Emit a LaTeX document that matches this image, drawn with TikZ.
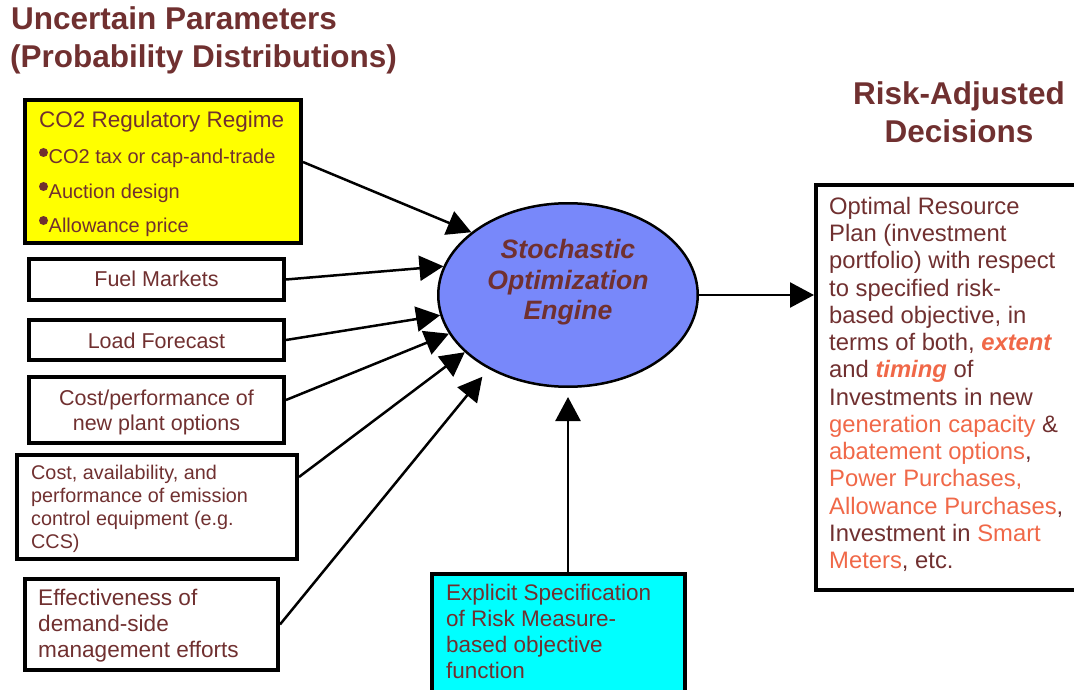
\documentclass[tikz,border=0pt]{standalone}
\usepackage{fontspec}
\setmainfont{Liberation Sans}
\usetikzlibrary{arrows.meta,shapes.geometric}
\definecolor{brn}{RGB}{112,48,48}
\definecolor{org}{RGB}{240,104,72}
\definecolor{peri}{RGB}{120,136,250}
\definecolor{cyn}{RGB}{0,255,255}
\definecolor{ylw}{RGB}{255,255,0}
\newcommand{\myfs}[2]{\fontsize{#1}{#2}\selectfont}
\begin{document}
\begin{tikzpicture}[x=1pt,y=-1pt,
  box/.style={draw=black, line width=4pt, rectangle, inner sep=0pt},
  txt/.style={inner sep=0pt, text=brn, anchor=base west},
  ctxt/.style={inner sep=0pt, text=brn, anchor=base},
  arr/.style={line width=2.5pt, -{Triangle[length=24pt,width=25pt]}},
  bul/.style={fill=brn},
]
\useasboundingbox (0,0) rectangle (1074,690);

% titles
\node[txt, font=\myfs{31.5}{38}\bfseries] (t1) at (11,30) {Uncertain Parameters};
\node[txt, font=\myfs{31.5}{38}\bfseries] (t2) at (10,68) {(Probability Distributions)};
\node[ctxt, font=\myfs{31.5}{38}\bfseries] (r1) at (959,105) {Risk-Adjusted};
\node[ctxt, font=\myfs{31.5}{38}\bfseries] (r2) at (959,143) {Decisions};

% boxes
\node[box, fill=ylw, minimum width=276pt, minimum height=143pt] (co2) at (163,171.5) {};
\node[box, minimum width=255pt, minimum height=41pt] (fuel) at (156.5,279.5) {};
\node[box, minimum width=255pt, minimum height=40pt] (load) at (156.5,340) {};
\node[box, minimum width=255pt, minimum height=66pt] (perf) at (156.5,410) {};
\node[box, minimum width=280pt, minimum height=104pt] (avail) at (157,507) {};
\node[box, minimum width=253pt, minimum height=91pt] (eff) at (151.5,624.5) {};
\node[box, minimum width=284pt, minimum height=405pt] (out) at (958,387.5) {};
\node[box, fill=cyn, minimum width=253pt, minimum height=146pt] (risk) at (558.5,647) {};
\node[draw=black, line width=2.5pt, ellipse, fill=peri, inner sep=0pt,
      minimum width=259.5pt, minimum height=183.5pt] (eng) at (568,295) {};

% box texts
\node[txt, font=\myfs{22.5}{27}] (co2t) at (39,128) {CO2 Regulatory Regime};
\fill[bul] (43.5,152.5) circle [radius=4.5pt];
\fill[bul] (43.5,186.5) circle [radius=4.5pt];
\fill[bul] (43.5,220.5) circle [radius=4.5pt];
\node[txt, font=\myfs{20}{24}] (b1) at (48.5,164) {CO2 tax or cap-and-trade};
\node[txt, font=\myfs{20}{24}] (b2) at (48.5,198) {Auction design};
\node[txt, font=\myfs{20}{24}] (b3) at (48.5,232) {Allowance price};
\node[ctxt, font=\myfs{21.5}{25}] (fuelt) at (156.5,286) {Fuel Markets};
\node[ctxt, font=\myfs{21.5}{25}] (loadt) at (156.5,348) {Load Forecast};
\node[ctxt, font=\myfs{21.5}{25}] (perft) at (156.5,405) {\parbox[t]{300pt}{\centering Cost/performance of\\new plant options}};
\node[txt, font=\myfs{19.8}{23}] (availt) at (31,479) {\parbox[t]{300pt}{\raggedright Cost, availability, and\\performance of emission\\control equipment (e.g.\\CCS)}};
\node[txt, font=\myfs{22.6}{26}] (efft) at (38,605.7) {\parbox[t]{300pt}{\raggedright Effectiveness of\\demand-side\\management efforts}};
\node[ctxt, font=\myfs{26.6}{31}\bfseries\itshape] (engt) at (568,258) {\parbox[t]{300pt}{\centering Stochastic\\Optimization\\Engine}};
\node[txt, font=\myfs{22.5}{26}] (riskt) at (446,600) {\parbox[t]{300pt}{\raggedright Explicit Specification\\of Risk Measure-\\based objective\\function}};
\node[txt, font=\myfs{23.8}{27.25}] (outt) at (829,214.3) {\parbox[t]{300pt}{\raggedright Optimal Resource\\Plan (investment\\portfolio) with respect\\to specified risk-\\based objective, in\\terms of both, {\color{org}\bfseries\itshape extent}\\and {\color{org}\bfseries\itshape timing} of\\Investments in new\\{\color{org}generation capacity} \&\\{\color{org}abatement options},\\{\color{org}Power Purchases,}\\{\color{org}Allowance Purchases},\\Investment in {\color{org}Smart}\\{\color{org}Meters}, etc.}};

% connectors
\draw[arr] ([yshift=9.5pt]co2.east) -- (eng.147);
\draw[arr] (fuel.east) -- (eng.167);
\draw[arr] (load.east) -- (eng.189);
\draw[arr] ([yshift=10pt]perf.east) -- (eng.198);
\draw[arr] ([yshift=30pt]avail.east) -- (eng.209);
\draw[arr, shorten >=10pt] (eff.east) -- (eng.223);
\draw[arr] (eng.east) -- (eng.east -| out.west);
\draw[arr, shorten >=9pt] (eng.south |- risk.north) -- (eng.south);
\end{tikzpicture}
\end{document}
